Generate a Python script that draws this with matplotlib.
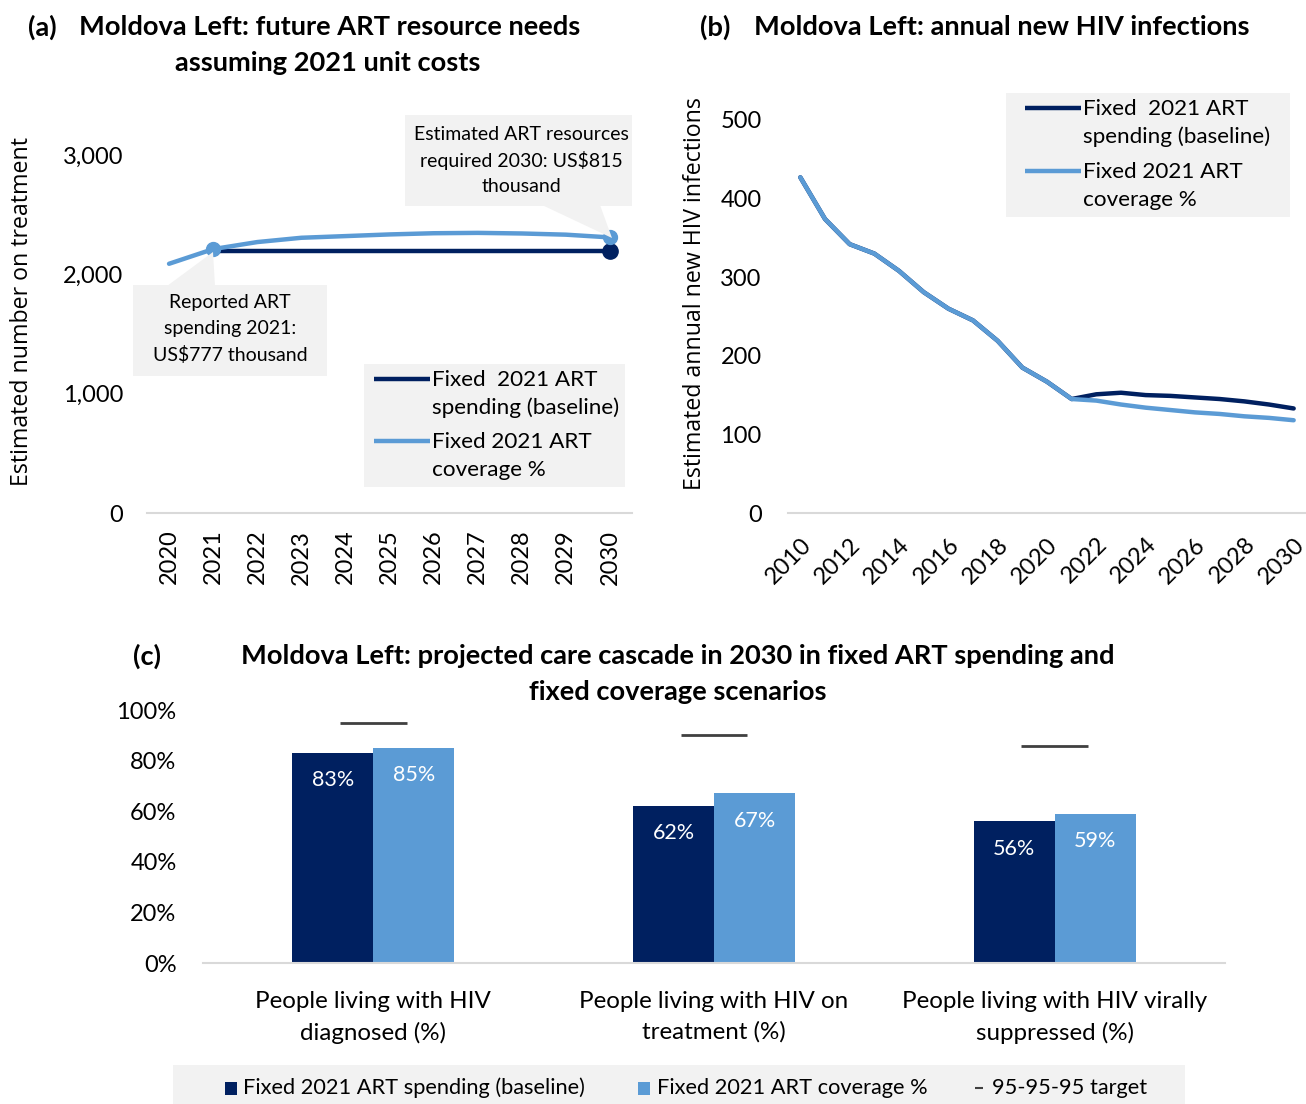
import matplotlib
matplotlib.use("Agg")
import matplotlib.pyplot as plt
from matplotlib.patches import Rectangle, Polygon
from matplotlib.lines import Line2D
from matplotlib.ticker import FuncFormatter

# ---------------- data ----------------
years_a = [2020, 2021, 2022, 2023, 2024, 2025, 2026, 2027, 2028, 2029, 2030]
baseline_a = [None, 2200, 2200, 2200, 2200, 2200, 2200, 2200, 2200, 2200, 2200]
coverage_a = [2089, 2212, 2271, 2307, 2321, 2335, 2345, 2348, 2343, 2333, 2310]

years_b = list(range(2010, 2031))
baseline_b = [427, 374, 342, 330, 308, 281, 260, 245, 219, 185, 167, 145,
              151, 153, 150, 149, 147, 145, 142, 138, 133]
coverage_b = [427, 374, 342, 330, 308, 281, 260, 245, 219, 185, 167, 145,
              143, 138, 134, 131, 128, 126, 123, 121, 118]

cascade_cats = ["People living with HIV\ndiagnosed (%)",
                "People living with HIV on\ntreatment (%)",
                "People living with HIV virally\nsuppressed (%)"]
cascade_baseline = [0.83, 0.62, 0.56]
cascade_coverage = [0.85, 0.67, 0.59]
cascade_target = [0.95, 0.9025, 0.857]

series_names = ["Fixed  2021 ART\nspending (baseline)", "Fixed 2021 ART\ncoverage %"]
legend_c = ["Fixed 2021 ART spending (baseline)", "Fixed 2021 ART coverage %", "95-95-95 target"]

DARK = "#002060"
LIGHT = "#5B9BD5"
BOXC = "#F2F2F2"
AXC = "#D9D9D9"
FONT = "Lato"
YFONT = "Open Sans"
TSIZE = 19.6
TICK = 17

W, H = 1306, 1104
fig = plt.figure(figsize=(W / 100, H / 100), dpi=100)


def fx(x):
    return x / W


def fy(y):
    return 1 - y / H


def ax_at(l, t, r, b):
    return fig.add_axes([fx(l), fy(b), (r - l) / W, (b - t) / H])


def ftext(x, y, s, **kw):
    kw.setdefault("family", FONT)
    fig.text(fx(x), fy(y), s, transform=fig.transFigure, **kw)


def fbox(l, t, r, b, color=BOXC):
    fig.patches.append(Rectangle((fx(l), fy(b)), (r - l) / W, (b - t) / H,
                                 transform=fig.transFigure, facecolor=color,
                                 edgecolor="none", zorder=0))


def fpoly(pts, color=BOXC):
    fig.patches.append(Polygon([(fx(x), fy(y)) for x, y in pts], closed=True,
                               transform=fig.transFigure, facecolor=color,
                               edgecolor="none", zorder=0))


def fline(x0, x1, y, color, lw):
    fig.lines.append(Line2D([fx(x0), fx(x1)], [fy(y), fy(y)], transform=fig.transFigure,
                            color=color, lw=lw, solid_capstyle="butt"))


def style_axes(ax):
    for s in ["top", "right", "left"]:
        ax.spines[s].set_visible(False)
    ax.spines["bottom"].set_color(AXC)
    ax.spines["bottom"].set_linewidth(1.5)
    ax.tick_params(length=0)
    ax.patch.set_alpha(0)


# ---------------- panel a ----------------
axa = ax_at(147, 110, 632, 513)
xa = list(range(len(years_a)))
xb_base = [i for i, v in zip(xa, baseline_a) if v is not None]
vb_base = [v for v in baseline_a if v is not None]
axa.plot(xb_base, vb_base, color=DARK, lw=3.2, solid_capstyle="round", zorder=3)
axa.plot(xa, coverage_a, color=LIGHT, lw=3.2, solid_capstyle="round", zorder=4)
axa.plot([xa[1]], [coverage_a[1]], "o", color=LIGHT, ms=10, zorder=5)
axa.plot([xa[-1]], [baseline_a[-1]], "o", color=DARK, ms=11, zorder=5)
axa.plot([xa[-1]], [coverage_a[-1]], "o", color=LIGHT, ms=10, zorder=5)
axa.set_xlim(-0.5, len(years_a) - 0.5)
axa.set_ylim(0, 3378)
axa.set_yticks([0, 1000, 2000, 3000])
axa.yaxis.set_major_formatter(FuncFormatter(lambda v, p: f"{int(v):,}"))
axa.set_xticks(xa)
axa.set_xticklabels([str(y) for y in years_a], rotation=90, family=FONT, fontsize=TICK)
for lab in axa.get_yticklabels():
    lab.set_family(FONT)
    lab.set_fontsize(TICK)
axa.tick_params(axis="y", pad=17)
axa.tick_params(axis="x", pad=12)
style_axes(axa)
ftext(22, 311, "Estimated number on treatment", rotation=90, ha="center", va="center",
      family=YFONT, fontsize=16.7)

# annotation boxes (panel a)
fbox(405, 115, 632, 206)
fpoly([(542, 205), (600, 205), (612, 238)])
for i, s in enumerate(["Estimated ART resources", "required 2030: US$815", "thousand"]):
    ftext(521, 135 + 26 * i, s, ha="center", va="center", fontsize=14)
fbox(133, 285, 327, 376)
fpoly([(167, 286), (215, 286), (213, 252)])
for i, s in enumerate(["Reported ART", "spending 2021:", "US$777 thousand"]):
    ftext(230, 303 + 26 * i, s, ha="center", va="center", fontsize=14)

# legend (panel a)
fbox(364, 364, 625, 487)
fline(374, 430, 379, DARK, 3.2)
fline(374, 430, 441, LIGHT, 3.2)
ftext(432, 394, series_names[0], ha="left", va="center", fontsize=16.2, linespacing=1.5)
ftext(432, 456, series_names[1], ha="left", va="center", fontsize=16.2, linespacing=1.5)

# title a
ftext(28, 27, "(a)", ha="left", va="center", fontsize=TSIZE, weight="bold")
ftext(79, 27, "Moldova Left: future ART resource needs", ha="left", va="center",
      fontsize=TSIZE, weight="bold")
ftext(328, 63, "assuming 2021 unit costs", ha="center", va="center", fontsize=TSIZE,
      weight="bold")

# ---------------- panel b ----------------
axb = ax_at(788, 100, 1306, 513)
axb.plot(years_b, baseline_b, color=DARK, lw=3.2, solid_joinstyle="round",
         solid_capstyle="round", zorder=3)
axb.plot(years_b, coverage_b, color=LIGHT, lw=3.2, solid_joinstyle="round",
         solid_capstyle="round", zorder=4)
axb.set_xlim(2009.5, 2030.5)
axb.set_ylim(0, 525.4)
axb.set_yticks([0, 100, 200, 300, 400, 500])
axb.set_xticks(list(range(2010, 2031, 2)))
axb.set_xticklabels([str(y) for y in range(2010, 2031, 2)], rotation=45, ha="right",
                    rotation_mode="anchor", family=FONT, fontsize=TICK)
for lab in axb.get_yticklabels():
    lab.set_family(FONT)
    lab.set_fontsize(TICK)
axb.tick_params(axis="y", pad=19)
axb.tick_params(axis="x", pad=15)
style_axes(axb)
ftext(695, 294, "Estimated annual new HIV infections", rotation=90, ha="center", va="center",
      family=YFONT, fontsize=16.7)

fbox(1006, 93, 1290, 217)
fline(1025, 1081, 108, DARK, 3.2)
fline(1025, 1081, 171, LIGHT, 3.2)
ftext(1083, 123, series_names[0], ha="left", va="center", fontsize=16.2, linespacing=1.5)
ftext(1083, 186, series_names[1], ha="left", va="center", fontsize=16.2, linespacing=1.5)

ftext(700, 27, "(b)", ha="left", va="center", fontsize=TSIZE, weight="bold")
ftext(754, 27, "Moldova Left: annual new HIV infections", ha="left", va="center",
      fontsize=TSIZE, weight="bold")

# ---------------- panel c ----------------
axc = ax_at(203, 710, 1225, 963)
xc = list(range(len(cascade_cats)))
bw = 0.238
b1 = axc.bar([x - bw / 2 for x in xc], cascade_baseline, width=bw, color=DARK, zorder=2)
b2 = axc.bar([x + bw / 2 for x in xc], cascade_coverage, width=bw, color=LIGHT, zorder=2)
axc.hlines(cascade_target, [x - 0.098 for x in xc], [x + 0.098 for x in xc],
           colors="#404040", lw=2, zorder=3)
for bars, vals in ((b1, cascade_baseline), (b2, cascade_coverage)):
    for r, v in zip(bars, vals):
        axc.text(r.get_x() + r.get_width() / 2, v - 0.108, f"{round(v * 100)}%",
                 ha="center", va="center", color="white", family=FONT, fontsize=15.5)
axc.set_xlim(-0.5, 2.5)
axc.set_ylim(0, 1.0)
axc.set_yticks([0, 0.2, 0.4, 0.6, 0.8, 1.0])
axc.yaxis.set_major_formatter(FuncFormatter(lambda v, p: f"{round(v * 100)}%"))
for lab in axc.get_yticklabels():
    lab.set_family(FONT)
    lab.set_fontsize(TICK)
axc.tick_params(axis="y", pad=19)
axc.set_xticks(xc)
axc.set_xticklabels(cascade_cats, family=FONT, fontsize=17.4, linespacing=1.55)
axc.tick_params(axis="x", pad=20)
style_axes(axc)

ftext(133, 656, "(c)", ha="left", va="center", fontsize=TSIZE, weight="bold")
ftext(678, 656, "Moldova Left: projected care cascade in 2030 in fixed ART spending and",
      ha="center", va="center", fontsize=TSIZE, weight="bold")
ftext(678, 692, "fixed coverage scenarios", ha="center", va="center", fontsize=TSIZE,
      weight="bold")

# legend c
fbox(173, 1065, 1185, 1104)
fbox(225, 1082, 237, 1095, color=DARK)
ftext(243, 1088, legend_c[0], ha="left", va="center", fontsize=15.7)
fbox(638, 1082, 650, 1095, color=LIGHT)
ftext(657, 1088, legend_c[1], ha="left", va="center", fontsize=15.7)
fline(975, 983, 1088, "#404040", 1.5)
ftext(992, 1088, legend_c[2], ha="left", va="center", fontsize=15.7)

fig.savefig("out.png", dpi=100)
